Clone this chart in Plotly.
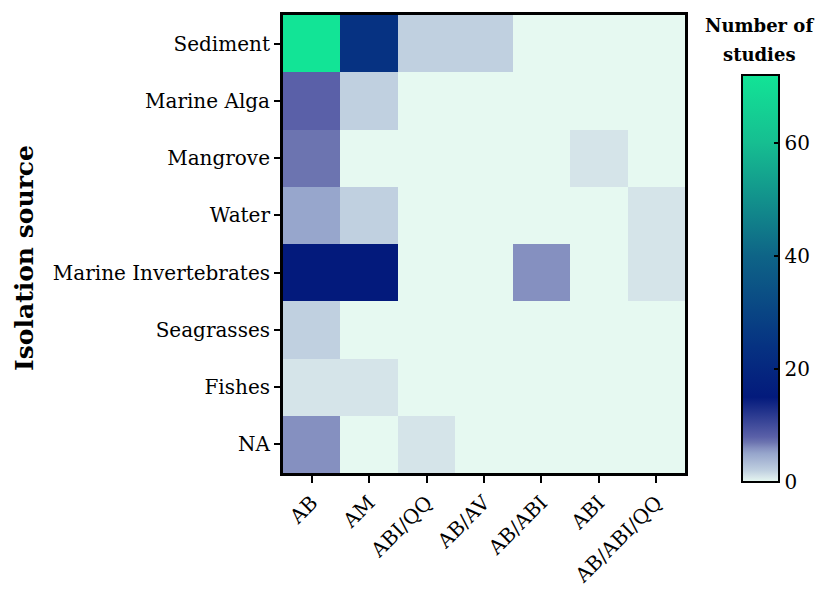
import plotly.graph_objects as go

sources = ["Sediment", "Marine Alga", "Mangrove", "Water", "Marine Invertebrates",
           "Seagrasses", "Fishes", "NA"]
methods = ["AB", "AM", "ABI/QQ", "AB/AV", "AB/ABI", "ABI", "AB/ABI/QQ"]

sediment = [72, 24, 2, 2, 0, 0, 0]
marine_alga = [8, 2, 0, 0, 0, 0, 0]
mangrove = [7, 0, 0, 0, 0, 1, 0]
water = [5, 2, 0, 0, 0, 0, 1]
marine_invertebrates = [15, 15, 0, 0, 6, 0, 1]
seagrasses = [2, 0, 0, 0, 0, 0, 0]
fishes = [1, 1, 0, 0, 0, 0, 0]
na_source = [6, 0, 1, 0, 0, 0, 0]

z = [sediment, marine_alga, mangrove, water, marine_invertebrates,
     seagrasses, fishes, na_source]

zmax = 72
cbar_ticks = [0, 20, 40, 60]

stops = [
    (0, "rgb(230,249,241)"),
    (1, "rgb(213,228,233)"),
    (2, "rgb(192,208,224)"),
    (5, "rgb(151,166,204)"),
    (6, "rgb(133,144,192)"),
    (7, "rgb(108,116,176)"),
    (8, "rgb(90,96,168)"),
    (15, "rgb(3,26,124)"),
    (24, "rgb(6,50,130)"),
    (40, "rgb(14,100,135)"),
    (60, "rgb(22,190,145)"),
    (72, "rgb(18,228,150)"),
]
colorscale = [[v / zmax, c] for v, c in stops]

FONT = "DejaVu Serif"

# page body adds an 8px offset to the figure
OFF = 8
W, H = 823 - OFF, 589 - OFF
L, T = 283 - OFF, 15 - OFF
R, B = W - (685 - OFF), H - (473 - OFF)
pw, ph = W - L - R, H - T - B


def px_x(x):
    return (x - OFF - L) / pw


def px_y(y):
    return (H - B - (y - OFF)) / ph


fig = go.Figure(go.Heatmap(
    z=z, x=methods, y=sources,
    zmin=0, zmax=zmax,
    colorscale=colorscale,
    xgap=0, ygap=0,
    colorbar=dict(
        x=px_x(742), xanchor="left", xpad=0,
        y=px_y(482), yanchor="bottom", ypad=0,
        len=(482 - 75) / ph, lenmode="fraction",
        thickness=37,
        outlinewidth=2, outlinecolor="black",
        tickvals=cbar_ticks,
        ticks="inside", ticklen=6, tickwidth=2, tickcolor="black",
        tickfont=dict(family=FONT, size=20, color="black"),
        ticklabelposition="outside",
    ),
))

title_font = dict(family=FONT, size=18)
fig.update_layout(
    width=W, height=H,
    margin=dict(l=L, r=R, t=T, b=B, autoexpand=False),
    paper_bgcolor="white", plot_bgcolor="white",
    font=dict(family=FONT, color="black"),
    xaxis=dict(
        showline=True, linewidth=3, linecolor="black", mirror=True,
        ticks="outside", ticklen=7, tickwidth=2, tickcolor="black",
        tickangle=-45, tickfont=dict(family=FONT, size=20),
        showgrid=False, zeroline=False, automargin=False,
    ),
    yaxis=dict(
        autorange="reversed",
        showline=True, linewidth=3, linecolor="black", mirror=True,
        ticks="outside", ticklen=6, tickwidth=2, tickcolor="black",
        tickfont=dict(family=FONT, size=20),
        showgrid=False, zeroline=False, automargin=False,
    ),
    annotations=[
        dict(
            text="<b>Number of</b>",
            x=px_x(759), y=px_y(25),
            xref="paper", yref="paper", showarrow=False,
            xanchor="center", yanchor="middle", font=title_font,
        ),
        dict(
            text="<b>studies</b>",
            x=px_x(759), y=px_y(55),
            xref="paper", yref="paper", showarrow=False,
            xanchor="center", yanchor="middle", font=title_font,
        ),
        dict(
            text="<b>Isolation source</b>", textangle=-90,
            x=px_x(25), y=px_y(258),
            xref="paper", yref="paper", showarrow=False,
            xanchor="center", yanchor="middle",
            font=dict(family=FONT, size=25),
        ),
    ],
)

fig.write_html("out.html")
